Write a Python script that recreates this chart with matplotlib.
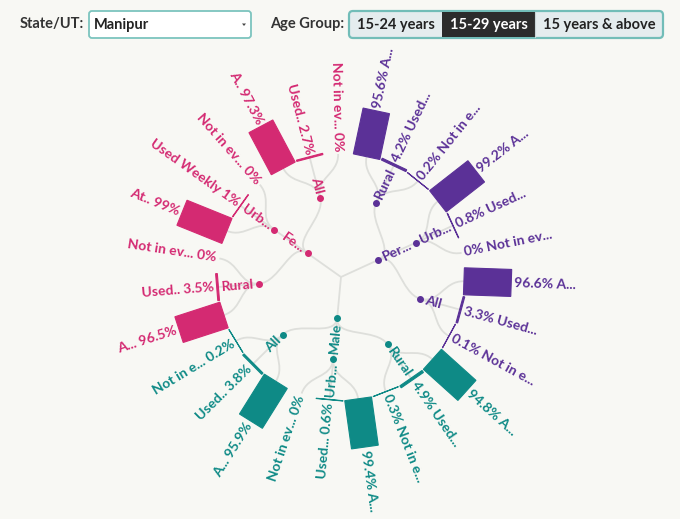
import matplotlib.pyplot as plt
import numpy as np
from matplotlib.path import Path
from matplotlib.patches import PathPatch, Polygon, FancyBboxPatch

# data: gender -> area -> indicator (percent)
genders = ['Male', 'Female', 'Persons']
gender_labels = ['Male', 'Fe...', 'Per...']
area_labels = ['Rural', 'Urb...', 'All']

male = [[94.8, 4.9, 0.3], [99.4, 0.6, 0.0], [95.9, 3.8, 0.2]]
female = [[96.5, 3.5, 0.0], [99.0, 1.0, 0.0], [97.3, 2.7, 0.0]]
persons = [[95.6, 4.2, 0.2], [99.2, 0.8, 0.0], [96.6, 3.3, 0.1]]

male_names = [['A...', 'Used...', 'Not in e...'], ['A...', 'Used...', 'Not in ev...'], ['A...', 'Used..', 'Not in e...']]
female_names = [['A...', 'Used..', 'Not in ev...'], ['At..', 'Used Weekly', 'Not in ev...'], ['A..', 'Used..', 'Not in ev...']]
persons_names = [['A...', 'Used...', 'Not in e...'], ['A...', 'Used...', 'Not in ev...'], ['A...', 'Used...', 'Not in e...']]

values = [male, female, persons]
names = [male_names, female_names, persons_names]
colors = ['#0e8a86', '#d42a72', '#5b3197']

age_groups = ['15-24 years', '15-29 years', '15 years & above']
state = 'Manipur'

BG = '#f8f8f4'
LINK = '#dedfdb'
FONT = 'Lato'

cx, cy = 341, 277
step = 41
bar_w = 27
scale = 0.49
n_leaves = 27
start = 2 + 3 * 360 / n_leaves


def pol(theta, r):
    t = np.radians(theta)
    return cx + r * np.cos(t), cy + r * np.sin(t)


def link(ax, a0, r0, a1, r1):
    rm = (r0 + r1) / 2
    pts = [pol(a0, r0), pol(a0, rm), pol(a1, rm), pol(a1, r1)]
    p = Path(pts, [Path.MOVETO, Path.CURVE4, Path.CURVE4, Path.CURVE4])
    ax.add_patch(PathPatch(p, fc='none', ec=LINK, lw=1.3, zorder=1))


def label(ax, theta, r, s, color, size=10):
    th = theta % 360
    right = np.cos(np.radians(th)) > 0
    x, y = pol(th, r)
    if right:
        rot, ha = -th, 'left'
    else:
        rot, ha = 180 - th, 'right'
    ax.text(x, y, s, rotation=rot, rotation_mode='anchor', ha=ha, va='center',
            color=color, fontsize=size, fontfamily=FONT, fontweight='bold')


fig = plt.figure(figsize=(6.8, 5.19), dpi=100, facecolor=BG)
ax = fig.add_axes([0, 0, 1, 1])
ax.set_xlim(0, 680)
ax.set_ylim(519, 0)
ax.axis('off')
ax.set_facecolor(BG)

leaf = 0
for g in range(3):
    col = colors[g]
    area_angles = []
    for a in range(3):
        leaf_angles = [start + (leaf + k) * 360 / n_leaves for k in range(3)]
        leaf += 3
        aa = (leaf_angles[0] + leaf_angles[-1]) / 2
        area_angles.append(aa)
        for k in range(3):
            th = leaf_angles[k]
            v = values[g][a][k]
            link(ax, aa, 2 * step, th, 3 * step)
            r0 = 3 * step
            r1 = r0 + v * scale
            t = np.radians(th)
            nx, ny = -np.sin(t) * bar_w / 2, np.cos(t) * bar_w / 2
            p0, p1 = pol(th, r0), pol(th, r1)
            if v > 0:
                poly = [(p0[0] + nx, p0[1] + ny), (p1[0] + nx, p1[1] + ny),
                        (p1[0] - nx, p1[1] - ny), (p0[0] - nx, p0[1] - ny)]
                ax.add_patch(Polygon(poly, closed=True, fc=col, ec=col, lw=0.8, zorder=2))
            pct = '%g%%' % v
            if np.cos(t) > 0:
                s = pct + ' ' + names[g][a][k]
            else:
                s = names[g][a][k] + ' ' + pct
            label(ax, th, r1 + 3, s, col)
    ga = (area_angles[0] + area_angles[-1]) / 2
    # root -> gender
    rm = step / 2
    pts = [(cx, cy), pol(ga, rm), pol(ga, rm), pol(ga, step)]
    ax.add_patch(PathPatch(Path(pts, [Path.MOVETO, Path.CURVE4, Path.CURVE4, Path.CURVE4]),
                           fc='none', ec=LINK, lw=1.3, zorder=1))
    gx, gy = pol(ga, step)
    ax.plot(gx, gy, 'o', ms=4, color=col, zorder=3)
    label(ax, ga, step + 5, gender_labels[g], col)
    for a in range(3):
        aa = area_angles[a]
        link(ax, ga, step, aa, 2 * step)
        x, y = pol(aa, 2 * step)
        ax.plot(x, y, 'o', ms=4, color=col, zorder=3)
        label(ax, aa, 2 * step + 5, area_labels[a], col)

# controls on top
ax.text(20, 24, 'State/UT:', fontsize=10.5, fontfamily=FONT, fontweight='bold',
        color='#333333', va='center', ha='left')
ax.add_patch(FancyBboxPatch((89, 11), 162, 27, boxstyle='round,pad=0,rounding_size=3',
                            fc='white', ec='#7cc4be', lw=1.3))
ax.text(94, 24.5, state, fontsize=10.5, fontfamily=FONT, fontweight='bold',
        color='#222222', va='center', ha='left')
ax.add_patch(Polygon([(242, 23.5), (246, 23.5), (244, 26)], closed=True,
                     fc='#444444', ec='none'))
ax.text(270, 24, 'Age Group:', fontsize=10.5, fontfamily=FONT, fontweight='bold',
        color='#333333', va='center', ha='left')
ax.add_patch(FancyBboxPatch((349, 11), 314, 27, boxstyle='round,pad=0,rounding_size=4',
                            fc='#e4ecee', ec='#72bdb8', lw=1.6, zorder=2))
edges = [349, 442, 535, 663]
for i, txt in enumerate(age_groups):
    x0, x1 = edges[i], edges[i + 1]
    sel = i == 1
    if sel:
        ax.add_patch(Polygon([(x0, 12), (x1, 12), (x1, 37), (x0, 37)], closed=True,
                             fc='#2c2c2c', ec='none', zorder=3))
    elif i == 2:
        ax.plot([x0, x0], [12, 37], color='#c8d4d6', lw=0.8, zorder=3)
    ax.text((x0 + x1) / 2, 24.5, txt, fontsize=10.5, fontfamily=FONT, fontweight='bold',
            color='white' if sel else '#222222', va='center', ha='center', zorder=4)

fig.savefig('out.png', dpi=100, facecolor=BG)
